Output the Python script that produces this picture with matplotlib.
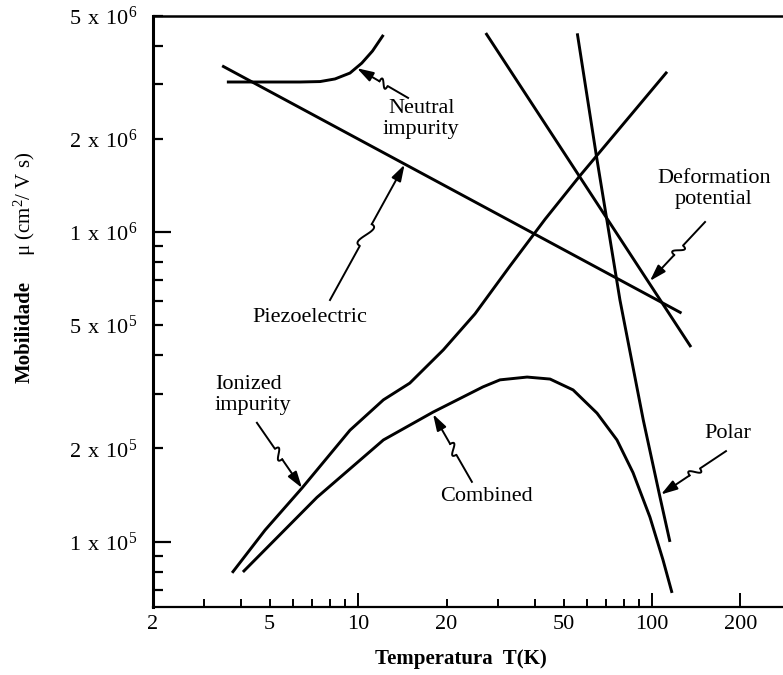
import numpy as np
import matplotlib
matplotlib.use("Agg")
import matplotlib.pyplot as plt
from matplotlib.ticker import FixedLocator, FuncFormatter

plt.rcParams["font.family"] = ["Liberation Serif", "DejaVu Serif"]
plt.rcParams["mathtext.fontset"] = "custom"
plt.rcParams["mathtext.rm"] = "Liberation Serif"


# =====================================
# DATA  (T in K, mobility in cm2/V s)
# =====================================

T_piezo = [3.45, 126]
mu_piezo = [3.44e6, 5.47e5]

T_neutral = [3.58, 4.64, 6.35, 7.43, 8.35, 9.39, 10.3, 11.2, 12.2]
mu_neutral = [3.05e6, 3.05e6, 3.05e6, 3.06e6, 3.12e6, 3.26e6, 3.51e6, 3.84e6, 4.33e6]

T_ionized = [3.73, 4.83, 6.45, 9.39, 12.2, 15.0, 19.5, 25.0, 32.9, 43.3, 56.9, 112.5]
mu_ionized = [7.93e4, 1.09e5, 1.49e5, 2.29e5, 2.87e5, 3.25e5, 4.16e5, 5.44e5,
              7.77e5, 1.10e6, 1.52e6, 3.29e6]

T_combined = [4.06, 7.25, 12.2, 18.0, 26.6, 30.4, 37.6, 45.0, 53.9, 65.0,
              76.0, 86.2, 98.4, 109, 117]
mu_combined = [7.98e4, 1.39e5, 2.13e5, 2.62e5, 3.16e5, 3.33e5, 3.40e5, 3.35e5,
               3.09e5, 2.60e5, 2.13e5, 1.67e5, 1.20e5, 8.73e4, 6.83e4]

T_polar = [55.7, 64.7, 77.8, 93.4, 106.5, 115.1]
mu_polar = [4.38e6, 1.76e6, 6.03e5, 2.47e5, 1.39e5, 9.98e4]

T_deform = [27.2, 135.7]
mu_deform = [4.39e6, 4.25e5]

x_labeled = [2, 5, 10, 20, 50, 100, 200]
y_labeled = [1e5, 2e5, 5e5, 1e6, 2e6, 5e6]

# curve labels: text, label pos, arrow start, arrow tip, alignment
labels = ["Neutral\nimpurity", "Piezoelectric", "Deformation\npotential",
          "Polar", "Combined", "Ionized\nimpurity"]
label_pos = [(16.4, 2.32e6), (6.87, 5.28e5), (162.5, 1.38e6),
             (181.4, 2.23e5), (27.3, 1.40e5), (3.26, 2.98e5)]
arrow_start = [(14.8, 2.71e6), (8.03, 6.03e5), (151.5, 1.077e6),
               (178.5, 1.96e5), (24.4, 1.56e5), (4.53, 2.42e5)]
arrow_tip = [(9.92, 3.38e6), (14.4, 1.65e6), (98.4, 6.95e5),
             (107.3, 1.42e5), (18.0, 2.58e5), (6.45, 1.49e5)]
label_ha = ["center", "center", "center", "center", "center", "left"]


# =====================================
# FIGURE
# =====================================

fig = plt.figure(figsize=(7.83, 6.75), dpi=100)
ax = fig.add_axes([0.1948, 0.1007, 0.8052, 0.8763])
ax.set_xscale("log")
ax.set_yscale("log")
ax.set_xlim(2, 279)
ax.set_ylim(6.15e4, 5e6)

lw = 2.1
for T, mu in [(T_piezo, mu_piezo), (T_neutral, mu_neutral),
              (T_ionized, mu_ionized), (T_combined, mu_combined),
              (T_polar, mu_polar), (T_deform, mu_deform)]:
    ax.plot(T, mu, color="black", lw=lw, solid_joinstyle="round",
            solid_capstyle="butt")


# =====================================
# AXES STYLE
# =====================================

ax.spines["right"].set_visible(False)
ax.spines["left"].set_linewidth(2.2)
ax.spines["bottom"].set_linewidth(1.6)
ax.spines["top"].set_linewidth(1.8)

x_major = [10, 100, 200]
x_minor = [2, 3, 4, 5, 6, 7, 8, 9, 20, 30, 40, 50, 60, 70, 80, 90]
y_major = [1e5, 1e6]
y_minor = [7e4, 8e4, 9e4, 2e5, 3e5, 4e5, 5e5, 6e5, 7e5, 8e5, 9e5, 2e6, 3e6, 4e6, 5e6]


def xfmt(v, pos):
    for t in x_labeled:
        if abs(v - t) < 1e-6 * t:
            return str(t)
    return ""


def yfmt(v, pos):
    for t in y_labeled:
        if abs(v - t) < 1e-3 * t:
            e = int(np.floor(np.log10(t) + 1e-9))
            m = int(round(t / 10 ** e))
            return r"$\mathregular{%d\ x\ 10^{%d}}$" % (m, e)
    return ""


ax.xaxis.set_major_locator(FixedLocator(x_major))
ax.xaxis.set_minor_locator(FixedLocator(x_minor))
ax.yaxis.set_major_locator(FixedLocator(y_major))
ax.yaxis.set_minor_locator(FixedLocator(y_minor))
ax.xaxis.set_major_formatter(FuncFormatter(xfmt))
ax.xaxis.set_minor_formatter(FuncFormatter(xfmt))
ax.yaxis.set_major_formatter(FuncFormatter(yfmt))
ax.yaxis.set_minor_formatter(FuncFormatter(yfmt))

ax.tick_params(axis="x", which="major", direction="in", length=10, width=1.4,
               labelsize=16, pad=6)
ax.tick_params(axis="x", which="minor", direction="in", length=6, width=1.4,
               labelsize=16, pad=6)
ax.tick_params(axis="y", which="major", direction="in", length=13, width=1.6,
               labelsize=16, pad=11)
ax.tick_params(axis="y", which="minor", direction="in", length=7.5, width=1.6,
               labelsize=16, pad=11)


# =====================================
# LABELS WITH SQUIGGLE ARROWS
# =====================================

def squiggle(start, tip, amp=6.0):
    s = ax.transData.transform(start)
    e = ax.transData.transform(tip)
    d = e - s
    L = np.hypot(d[0], d[1])
    u = d / L
    n = np.array([-u[1], u[0]])
    a = s + u * L * 0.40
    b = s + u * L * 0.56
    t = np.linspace(0, 1, 25)[:, None]
    p1 = a + n * amp * 2.2
    p2 = b - n * amp * 2.2
    bez = ((1 - t) ** 3) * a + 3 * ((1 - t) ** 2) * t * p1 \
        + 3 * (1 - t) * t ** 2 * p2 + t ** 3 * b
    pts = np.vstack([s, bez])
    data = ax.transData.inverted().transform(pts)
    ax.plot(data[:, 0], data[:, 1], color="black", lw=1.4,
            solid_joinstyle="round")
    bd = ax.transData.inverted().transform(b)
    ax.annotate("", xy=tip, xytext=(bd[0], bd[1]),
                arrowprops=dict(arrowstyle="-|>,head_length=0.9,head_width=0.28",
                                color="black", lw=1.4, shrinkA=0, shrinkB=0,
                                mutation_scale=11))


for txt, pos, st, tp, ha in zip(labels, label_pos, arrow_start, arrow_tip, label_ha):
    ax.text(pos[0], pos[1], txt, ha=ha, va="center", fontsize=16,
            linespacing=1.15)
    squiggle(st, tp)


# axis titles
fig.text(460.6 / 783, 1 - 659 / 675, "Temperatura  T(K)", ha="center",
         va="center", fontsize=15, fontweight="bold")
fig.text(25 / 783, 1 - 332 / 675, "Mobilidade", rotation=90, ha="center",
         va="center", fontsize=15, fontweight="bold")
fig.text(25 / 783, 1 - 204 / 675, r"μ (cm$\mathregular{^2}$/ V s)", rotation=90,
         ha="center", va="center", fontsize=15)

fig.savefig("out.png", dpi=100)
